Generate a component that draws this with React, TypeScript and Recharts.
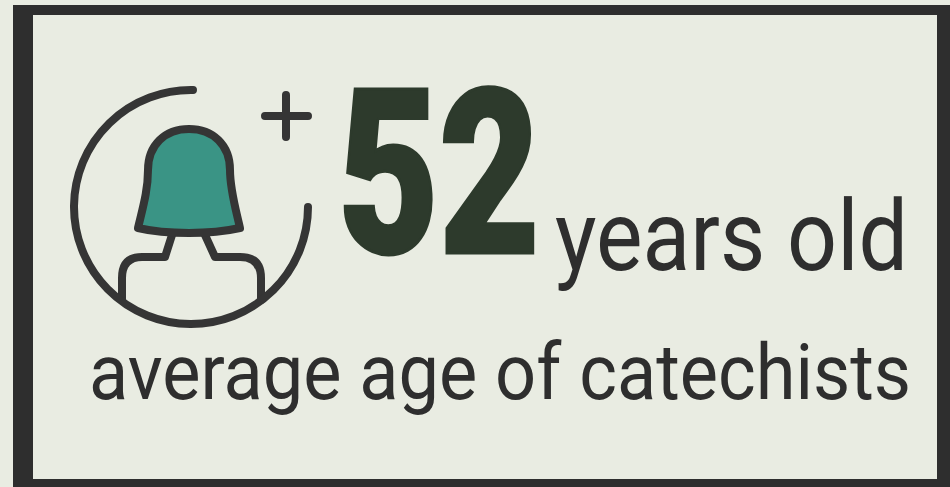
import React from "react";
import { ScatterChart, Scatter, XAxis, YAxis, ReferenceArea, Customized } from "recharts";

const W = 950;
const H = 487;
const averageAge = [52];
const unitLabels = ["years old"];
const captionLabels = ["average age of catechists"];

const PAPER = "#e9ece2";
const INK = "#2e2e2e";
const ICON = "#353535";
const NUMBER = "#2d3a2c";
const TEAL = "#3a9485";

const ageData = averageAge.map((age) => ({ age, x: 338, y: 253, size: 231, len: 202, bold: 3 }));
const unitData = unitLabels.map((label) => ({ label, x: 555, y: 270, size: 98, len: 353, bold: 0 }));
const captionData = captionLabels.map((label) => ({ label, x: 89, y: 399, size: 78, len: 822, bold: 0 }));

const Icon = () => (
  <g fill="none" stroke={ICON} strokeWidth={8} strokeLinecap="round" strokeLinejoin="round">
    <path d="M172 235 L165 257 L142 257 Q122 257 122 278 L122 300" />
    <path d="M205 235 L215 257 L240 257 Q261 257 261 278 L261 300" />
    <path d="M193 90 A117 117 0 1 0 308 207" />
    <path d="M286 95 L286 137 M265 116 L308 116" />
    <path
      d="M148 170 C148 145 165 129 189 129 C213 129 230 145 230 170 C230 190 236 210 240 228 C222 232 205 233 189 233 C172 233 155 232 138 228 C143 207 148 190 148 170 Z"
      fill={TEAL}
    />
  </g>
);

const textShape = (weight: number, fill: string, field: string) => (props: any) => {
  const { cx, cy, payload } = props;
  return (
    <text
      x={cx}
      y={cy}
      fontFamily="Roboto, sans-serif"
      fontWeight={weight}
      fontSize={payload.size}
      fill={fill}
      stroke={payload.bold ? fill : "none"}
      strokeWidth={payload.bold}
      textLength={payload.len}
      lengthAdjust="spacingAndGlyphs"
    >
      {payload[field]}
    </text>
  );
};

export default function App() {
  return (
    <div style={{ position: "fixed", left: 0, top: 0, width: W, height: H, background: PAPER }}>
      <ScatterChart width={W} height={H} margin={{ top: 0, right: 0, bottom: 0, left: 0 }}>
        <XAxis type="number" dataKey="x" domain={[0, W]} hide />
        <YAxis type="number" dataKey="y" domain={[0, H]} reversed hide />
        <ReferenceArea x1={13} x2={33} y1={5} y2={487} fill={INK} fillOpacity={1} ifOverflow="visible" />
        <ReferenceArea x1={13} x2={950} y1={5} y2={15} fill={INK} fillOpacity={1} ifOverflow="visible" />
        <ReferenceArea x1={937} x2={950} y1={5} y2={487} fill={INK} fillOpacity={1} ifOverflow="visible" />
        <ReferenceArea x1={13} x2={950} y1={479} y2={487} fill={INK} fillOpacity={1} ifOverflow="visible" />
        <Customized component={Icon} />
        <Scatter data={ageData} isAnimationActive={false} shape={textShape(900, NUMBER, "age")} />
        <Scatter data={unitData} isAnimationActive={false} shape={textShape(400, INK, "label")} />
        <Scatter data={captionData} isAnimationActive={false} shape={textShape(400, INK, "label")} />
      </ScatterChart>
    </div>
  );
}
